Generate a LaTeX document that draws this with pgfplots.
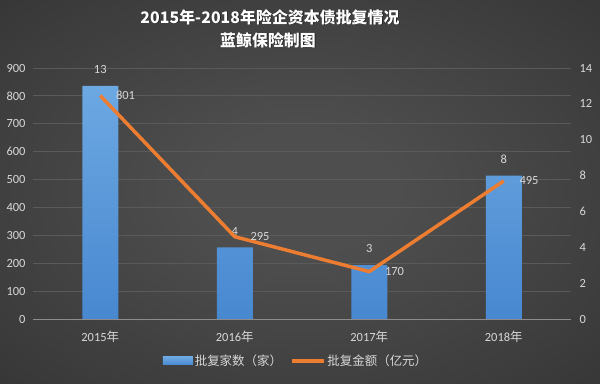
\documentclass[border=0pt]{standalone}
\usepackage{pgfplots}
\pgfplotsset{compat=1.18}
\usepackage{fontspec}
\setmainfont{Carlito}
\newfontfamily\cjk{Noto Sans CJK SC}
\definecolor{bgin}{HTML}{4E4E4E}
\definecolor{bgout}{HTML}{2B2B2B}
\definecolor{gridc}{HTML}{5A5A5A}
\definecolor{axisc}{HTML}{8C8C8C}
\definecolor{txt}{HTML}{D8D8D8}
\definecolor{bartop}{HTML}{6CA8E2}
\definecolor{barbot}{HTML}{4888D0}
\definecolor{lineor}{HTML}{ED7D31}
\pgfdeclareradialshading{bgshade}{\pgfpoint{0bp}{0bp}}{color(0bp)=(bgin); color(8bp)=(bgin); color(50bp)=(bgout); color(72bp)=(bgout)}
\pgfplotstableread{
x y
0 13
1 4
2 3
3 8
}\bars
\pgfplotstableread{
x y
0 801
1 295
2 170
3 495
}\amount
\pgfplotsset{
 base/.style={scale only axis, width=538bp, height=251bp, at={(33bp,64bp)}, anchor=south west,
  xmin=-0.5, xmax=3.5, /pgf/number format/assume math mode=true,
  ticklabel style={font=\fontsize{12.5}{14}\selectfont, text=txt},
  tick style={draw=none}, axis line style={draw=none}},
}
\begin{document}
\begin{tikzpicture}[x=1bp,y=1bp]
\shade[shading=bgshade] (0,0) rectangle (600,383);
\node[text=black, opacity=0.6, font=\cjk\bfseries\fontsize{16}{18}\selectfont] at (270.8,365.2) {2015年-2018年险企资本债批复情况};
\node[text=white, font=\cjk\bfseries\fontsize{16}{18}\selectfont] at (270,366) {2015年-2018年险企资本债批复情况};
\node[text=black, opacity=0.6, font=\cjk\bfseries\fontsize{16}{18}\selectfont] at (268.8,342.2) {蓝鲸保险制图};
\node[text=white, font=\cjk\bfseries\fontsize{16}{18}\selectfont] at (268,343) {蓝鲸保险制图};
\begin{axis}[base, ymin=0, ymax=900, ytick={0,100,...,900},
  ymajorgrids, grid style={gridc, line width=0.8bp},
  xtick={0,1,2,3}, xticklabels={{2015{\cjk 年}},{2016{\cjk 年}},{2017{\cjk 年}},{2018{\cjk 年}}},
  yticklabel style={xshift=-4bp}, xticklabel style={yshift=-8bp}]
\end{axis}
\begin{axis}[base, ymin=0, ymax=14, ytick={0,2,...,14}, axis y line*=right, axis x line=none,
  yticklabel style={xshift=5bp}, ybar, bar width=36bp, clip=false,
  nodes near coords, every node near coord/.append style={font=\fontsize{12.5}{14}\selectfont, text=txt, anchor=south, inner sep=0pt, yshift=12bp}]
\addplot[draw=none, top color=bartop, bottom color=barbot] table[x=x,y=y] {\bars};
\end{axis}
\begin{axis}[base, ymin=0, ymax=900, hide axis, clip=false,
  legend columns=2,
  legend style={at={(0.4888,-0.1673)}, anchor=center, draw=none, fill=none, text=txt,
    font=\cjk\fontsize{12.5}{14}\selectfont, /tikz/every even column/.append style={column sep=6bp}},
  legend cell align=left]
\addlegendimage{draw=none, legend image code/.code={\shade[draw=none, top color=bartop,bottom color=barbot] (0bp,-4bp) rectangle (30bp,4bp);}}
\addlegendentry{批复家数（家）}
\addplot[lineor, line width=3.5bp, mark=none,
  nodes near coords, every node near coord/.append style={font=\fontsize{12.5}{14}\selectfont, text=txt, anchor=west, inner sep=0pt, xshift=14bp},
  legend image code/.code={\draw[lineor, line width=3.5bp] (0bp,0bp) -- (32bp,0bp);}] table[x=x,y=y] {\amount};
\addlegendentry{批复金额（亿元）}
\draw[axisc, line width=1bp] (axis cs:-0.5,0) -- (axis cs:3.5,0);
\end{axis}
\end{tikzpicture}
\end{document}
